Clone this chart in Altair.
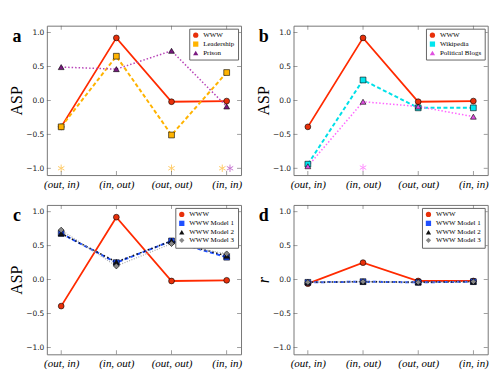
import altair as alt
import pandas as pd

# ---------------- data ----------------
categories = ["(out, in)", "(in, out)", "(out, out)", "(in, in)"]
positions = [0, 1, 2, 3]
y_ticks = [-1.0, -0.5, 0.0, 0.5, 1.0]

www_asp = [-0.39, 0.92, -0.02, -0.01]
leadership_asp = [-0.39, 0.65, -0.51, 0.41]
prison_asp = [0.49, 0.46, 0.73, -0.09]
wikipedia_asp = [-0.94, 0.30, -0.11, -0.11]
blogs_asp = [-0.97, -0.02, -0.09, -0.24]
model1_asp = [0.68, 0.25, 0.57, 0.33]
model2_asp = [0.68, 0.26, 0.57, 0.35]
model3_asp = [0.73, 0.20, 0.53, 0.38]

www_r = [-0.06, 0.25, -0.02, -0.02]
model1_r = [-0.04, -0.03, -0.04, -0.03]
model2_r = [-0.04, -0.03, -0.04, -0.03]
model3_r = [-0.04, -0.03, -0.04, -0.03]

# significance asterisks: (x position, y value, colour)
stars_a_x = [0, 2, 2.92, 3.06]
stars_a_y = [-1.0, -1.0, -1.0, -1.0]
stars_a_c = ["#FFB830", "#FFB830", "#FFB830", "#B040C0"]
stars_b_x = [1]
stars_b_y = [-0.99]
stars_b_c = ["#FF66FF"]

W, H = 195, 150
ASTERISK = "M0,-1L0,1M-0.866,-0.5L0.866,0.5M-0.866,0.5L0.866,-0.5"

label_expr = "[" + ",".join("'%s'" % c for c in categories) + "][datum.value]"


def make_panel(series, letter, ytitle, ytitle_style, stars=None):
    xaxis = alt.Axis(values=positions, labelExpr=label_expr, title=None, grid=False,
                     domain=False, ticks=False, labelFont="Liberation Serif",
                     labelFontStyle="italic", labelFontSize=11, labelColor="black",
                     labelPadding=3)
    yaxis = alt.Axis(values=y_ticks, format=".1f", title=ytitle, grid=False, domain=False,
                     ticks=False, labelFont="DejaVu Sans", labelFontSize=7.5,
                     labelColor="#222", labelPadding=3, titleFont="Liberation Serif",
                     titleFontSize=16, titleFontWeight="normal", titleFontStyle=ytitle_style,
                     titleColor="black", titlePadding=1)
    X = alt.X("x:Q", scale=alt.Scale(domain=[-0.26, 3.26], nice=False, zero=False), axis=xaxis)
    Y = alt.Y("y:Q", scale=alt.Scale(domain=[-1.1, 1.1], nice=False, zero=False), axis=yaxis)

    layers = []
    rows = []
    for s in series:
        df = pd.DataFrame({"x": positions, "y": s["values"]})
        kw = dict(color=s["line"], strokeWidth=s.get("lw", 1.6))
        if s.get("dash"):
            kw["strokeDash"] = s["dash"]
        layers.append(alt.Chart(df).mark_line(**kw).encode(x=X, y=Y))
        for p, v in zip(positions, s["values"]):
            rows.append({"x": p, "y": v, "series": s["name"]})

    if stars:
        sx, sy, sc = stars
        sdf = pd.DataFrame({"x": sx, "y": sy, "c": sc})
        layers.append(alt.Chart(sdf).mark_point(shape=ASTERISK, filled=False, size=55,
                                                strokeWidth=1.0).encode(
            x=X, y=Y, stroke=alt.Stroke("c:N", scale=None)))

    names = [s["name"] for s in series]
    legend = alt.Legend(title=None, orient="top-right", offset=3, padding=3, rowPadding=0,
                        labelFont="Liberation Serif", labelFontSize=7, labelColor="black",
                        symbolSize=28, strokeColor="#666", fillColor="white",
                        symbolStrokeColor="black", symbolStrokeWidth=0.6, labelOffset=4,
                        cornerRadius=0)
    pdf = pd.DataFrame(rows)
    layers.append(alt.Chart(pdf).mark_point(filled=True, stroke="black", strokeWidth=0.6,
                                            size=34, opacity=1).encode(
        x=X, y=Y,
        fill=alt.Fill("series:N", scale=alt.Scale(domain=names, range=[s["fill"] for s in series]),
                      legend=legend),
        shape=alt.Shape("series:N", scale=alt.Scale(domain=names, range=[s["shape"] for s in series]),
                        legend=legend),
    ))

    # inward ticks on all four sides
    ytdf = pd.DataFrame({"y": y_ticks})
    xtdf = pd.DataFrame({"x": positions})
    tk = dict(color="#555", size=4, thickness=0.8)
    layers.append(alt.Chart(ytdf).mark_tick(orient="horizontal", **tk).encode(y=Y, x=alt.value(2)))
    layers.append(alt.Chart(ytdf).mark_tick(orient="horizontal", **tk).encode(y=Y, x=alt.value(W - 2)))
    layers.append(alt.Chart(xtdf).mark_tick(orient="vertical", **tk).encode(x=X, y=alt.value(H - 2)))
    layers.append(alt.Chart(xtdf).mark_tick(orient="vertical", **tk).encode(x=X, y=alt.value(2)))

    ldf = pd.DataFrame({"t": [letter]})
    layers.append(alt.Chart(ldf).mark_text(font="Liberation Serif", fontWeight="bold", fontSize=18,
                                           align="center", baseline="middle", color="black").encode(
        x=alt.value(-30), y=alt.value(11), text="t:N"))

    return alt.layer(*layers).properties(width=W, height=H)


WWW = dict(name="WWW", values=www_asp, line="#FF2A00", fill="#E8300A", shape="circle", lw=1.8)

panel_a = make_panel([
    WWW,
    dict(name="Leadership", values=leadership_asp, line="#FFB300", fill="#FFB300",
         shape="square", dash=[4, 2.5], lw=2),
    dict(name="Prison", values=prison_asp, line="#B844B8", fill="#7A1A80",
         shape="triangle-up", dash=[1.5, 2], lw=1.5),
], "a", "ASP", "normal", (stars_a_x, stars_a_y, stars_a_c))

panel_b = make_panel([
    WWW,
    dict(name="Wikipedia", values=wikipedia_asp, line="#00E0E8", fill="#00E5EE",
         shape="square", dash=[4, 2.5], lw=2),
    dict(name="Political Blogs", values=blogs_asp, line="#FF66FF", fill="#E050E0",
         shape="triangle-up", dash=[1.5, 2], lw=1.5),
], "b", "ASP", "normal", (stars_b_x, stars_b_y, stars_b_c))


def model_series(www_vals, m1, m2, m3):
    return [
        dict(name="WWW", values=www_vals, line="#FF2A00", fill="#E8300A", shape="circle", lw=1.8),
        dict(name="WWW Model 1", values=m1, line="#2050FF", fill="#1F4FFF", shape="square",
             dash=[4, 2.5], lw=2),
        dict(name="WWW Model 2", values=m2, line="#111111", fill="#111111", shape="triangle-up",
             dash=[1.5, 2.5], lw=1.5),
        dict(name="WWW Model 3", values=m3, line="#AAAAAA", fill="#888888", shape="diamond",
             dash=[1, 1.5], lw=1.2),
    ]


panel_c = make_panel(model_series(www_asp, model1_asp, model2_asp, model3_asp), "c", "ASP", "normal")
panel_d = make_panel(model_series(www_r, model1_r, model2_r, model3_r), "d", "r", "italic")

row1 = alt.hconcat(panel_a, panel_b, spacing=52.7, bounds="flush").resolve_scale(
    fill="independent", shape="independent")
row2 = alt.hconcat(panel_c, panel_d, spacing=52.7, bounds="flush").resolve_scale(
    fill="independent", shape="independent")

chart = alt.vconcat(row1, row2, spacing=14).resolve_scale(
    fill="independent", shape="independent"
).properties(
    padding={"left": 0, "top": 16, "right": 0, "bottom": 0}
).configure_view(stroke="#777", strokeWidth=1).configure_axis(grid=False)

chart.save("out.html", embed_options={"renderer": "svg", "actions": False})
